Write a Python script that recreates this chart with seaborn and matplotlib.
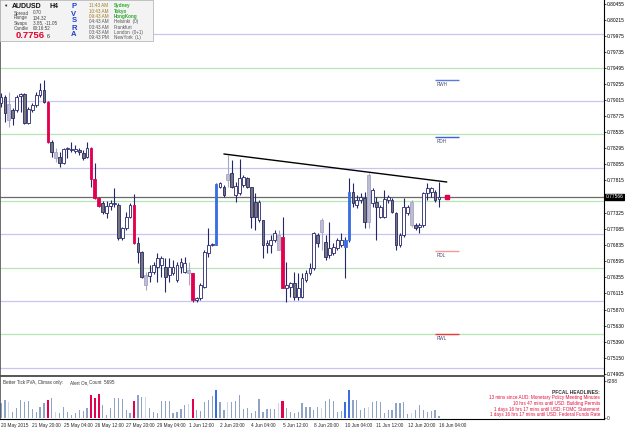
import numpy as np
import pandas as pd
import matplotlib
matplotlib.use("Agg")
import matplotlib.pyplot as plt
import matplotlib.transforms as mtransforms
from matplotlib.patches import Rectangle
import seaborn as sns

# AUDUSD H4 candles
opens = [0.7897, 0.7906, 0.78955, 0.78865, 0.78865, 0.79075, 0.79105, 0.7867, 0.78865, 0.7894,
         0.7909, 0.79165, 0.78985, 0.78385, 0.78235, 0.7816, 0.7807, 0.7828, 0.78265, 0.7825,
         0.78265, 0.7822, 0.7816, 0.78295, 0.7783, 0.77545, 0.7747, 0.7732, 0.77425, 0.77455,
         0.7744, 0.76945, 0.77095, 0.7726, 0.7744, 0.7687, 0.76735, 0.7639, 0.76375, 0.76435,
         0.7651, 0.7654, 0.7651, 0.7639, 0.7642, 0.76315, 0.7651, 0.76435, 0.76465, 0.7642,
         0.76015, 0.76045, 0.7621, 0.7672, 0.7684, 0.7684, 0.7771, 0.7771, 0.77815, 0.7792,
         0.7759, 0.7762, 0.7774, 0.77845, 0.7771, 0.77485, 0.77215, 0.77215, 0.7684, 0.7684,
         0.76915, 0.7699, 0.7696, 0.76195, 0.7621, 0.7627, 0.7606, 0.7606, 0.76315, 0.7642,
         0.76495, 0.7699, 0.77035, 0.76885, 0.7669, 0.7672, 0.76795, 0.7684, 0.7681, 0.76915,
         0.77635, 0.7744, 0.77515, 0.77545, 0.77185, 0.7747, 0.77485, 0.7726, 0.7726, 0.77515,
         0.77515, 0.7732, 0.7684, 0.7699, 0.7732, 0.77485, 0.7714, 0.7711, 0.7714, 0.7762,
         0.77635, 0.77635, 0.7753]
closes = [0.7906, 0.7882, 0.78715, 0.78745, 0.7906, 0.79105, 0.7867, 0.7888, 0.7894, 0.7909,
          0.79165, 0.78985, 0.78385, 0.78235, 0.78145, 0.7807, 0.7828, 0.78295, 0.7828, 0.7828,
          0.78235, 0.78145, 0.78295, 0.7783, 0.77545, 0.77425, 0.77335, 0.77425, 0.7747, 0.7747,
          0.76945, 0.77095, 0.7726, 0.7744, 0.7687, 0.76735, 0.7636, 0.7624, 0.76435, 0.7654,
          0.76645, 0.76645, 0.7636, 0.7651, 0.7651, 0.7654, 0.76585, 0.7657, 0.7642, 0.76015,
          0.76045, 0.7624, 0.76735, 0.7684, 0.76855, 0.77755, 0.7777, 0.7759, 0.77905, 0.7771,
          0.77725, 0.77845, 0.7786, 0.7771, 0.7726, 0.7726, 0.77485, 0.7684, 0.7687, 0.76915,
          0.7702, 0.76765, 0.76195, 0.7624, 0.7627, 0.7606, 0.76195, 0.76345, 0.7642, 0.76495,
          0.7702, 0.7687, 0.77215, 0.7666, 0.76795, 0.7681, 0.76915, 0.76915, 0.76915, 0.77635,
          0.7747, 0.77515, 0.7756, 0.77185, 0.7789, 0.77665, 0.7741, 0.7741, 0.7753, 0.7756,
          0.77335, 0.7684, 0.7699, 0.7741, 0.7741, 0.7714, 0.77095, 0.7714, 0.7762, 0.77695,
          0.77695, 0.77515, 0.77566]
highs = [0.7912, 0.7909, 0.79135, 0.78895, 0.7909, 0.7912, 0.7912, 0.7891, 0.7897, 0.79135,
         0.7927, 0.79315, 0.79, 0.78415, 0.78295, 0.78235, 0.78295, 0.7831, 0.78385, 0.7834,
         0.78295, 0.78265, 0.78385, 0.7831, 0.7807, 0.7756, 0.775, 0.775, 0.77515, 0.77695,
         0.7747, 0.7711, 0.77335, 0.7747, 0.77605, 0.7696, 0.7675, 0.76435, 0.7654, 0.76585,
         0.7672, 0.76675, 0.76645, 0.76645, 0.76615, 0.76585, 0.76645, 0.7666, 0.76585, 0.7642,
         0.7606, 0.7627, 0.76765, 0.77095, 0.7687, 0.7777, 0.77785, 0.7774, 0.7819, 0.78115,
         0.77785, 0.7813, 0.7789, 0.7786, 0.7771, 0.7762, 0.77515, 0.77215, 0.76915, 0.7699,
         0.77065, 0.77065, 0.7726, 0.76585, 0.76285, 0.76435, 0.7642, 0.7642, 0.76465, 0.7657,
         0.77035, 0.7702, 0.77245, 0.7699, 0.77185, 0.7687, 0.76945, 0.7702, 0.7696, 0.77845,
         0.7777, 0.7759, 0.7762, 0.77635, 0.7792, 0.77695, 0.7756, 0.7744, 0.77665, 0.7759,
         0.77545, 0.77335, 0.7702, 0.77545, 0.7744, 0.77515, 0.7717, 0.7717, 0.77635, 0.7777,
         0.7771, 0.77665, 0.77785]
lows = [0.7891, 0.78685, 0.7861, 0.7864, 0.78835, 0.78835, 0.78655, 0.78655, 0.78835, 0.7891,
        0.7906, 0.7897, 0.7837, 0.7816, 0.78085, 0.7801, 0.78055, 0.78145, 0.78235, 0.7822,
        0.7819, 0.78115, 0.78145, 0.7771, 0.7753, 0.7741, 0.77305, 0.77245, 0.77365, 0.7741,
        0.76915, 0.76915, 0.77065, 0.77245, 0.76855, 0.7657, 0.76345, 0.76165, 0.76285, 0.76405,
        0.76285, 0.7636, 0.76135, 0.76285, 0.7639, 0.76285, 0.7642, 0.7642, 0.7624, 0.75985,
        0.75985, 0.76015, 0.76195, 0.7666, 0.76825, 0.7684, 0.77695, 0.7756, 0.7771, 0.77695,
        0.77485, 0.7759, 0.7771, 0.77695, 0.77095, 0.77065, 0.77185, 0.76645, 0.7672, 0.7672,
        0.76885, 0.76765, 0.76195, 0.75985, 0.7606, 0.76015, 0.76015, 0.76045, 0.76285, 0.7639,
        0.76465, 0.7681, 0.76765, 0.76615, 0.76645, 0.7669, 0.76765, 0.7681, 0.76345, 0.76885,
        0.7741, 0.77395, 0.7747, 0.77095, 0.77095, 0.7741, 0.76915, 0.77245, 0.77245, 0.7747,
        0.7732, 0.76765, 0.7681, 0.7696, 0.7729, 0.7711, 0.77065, 0.7702, 0.7711, 0.77515,
        0.7756, 0.77485, 0.7741]
# PVSRA candle class: w=up, d=down, l=low volume, r=bear climax, b=bull climax
kinds = list("wdldwwdwww" "wdrdldwwww" "ddwrrrdwww" "dwwwrddlww" "wwdwwwwwlr"
             "wwwwwbwdld" "wwwdddwdww" "wlrwwdwwww" "wdldwwwwbb" "dwwdlwdwww"
             "ddwwwldwww" "wdw")
volumes = [2500, 3060, 2770, 1070, 1650, 3060, 2770, 2940, 1480, 1070,
           1920, 2600, 3060, 3350, 1070, 900, 1920, 970, 510, 800,
           1360, 1240, 1650, 3910, 3450, 4030, 2210, 510, 1650, 3350,
           3350, 3180, 1360, 900, 2890, 3910, 3620, 3620, 1650, 970,
           800, 2940, 2940, 2940, 800, 1070, 1480, 2210, 2330, 3180,
           1360, 1240, 2770, 3060, 3790, 4760, 2770, 1360, 2770, 2770,
           2890, 3910, 1480, 1650, 800, 1240, 3180, 1070, 1480, 1480,
           1480, 2500, 2940, 1650, 970, 800, 1070, 2500, 1920, 1920,
           1360, 1920, 1650, 2940, 3180, 2940, 1070, 1240, 2670, 4760,
           3060, 3060, 1360, 1650, 1820, 2770, 2940, 2770, 800, 1360,
           1360, 2500, 2600, 2770, 630, 800, 1360, 2210, 1360, 1070,
           1240, 1360, 340]

date_pos = [0, 8, 16, 24, 32, 40, 48, 56, 64, 72, 80, 88, 96, 104, 112]
date_labels = ["20 May 2015", "21 May 20:00", "25 May 04:00", "26 May 12:00", "27 May 20:00",
               "29 May 04:00", "1 Jun 12:00", "2 Jun 20:00", "4 Jun 04:00", "5 Jun 12:00",
               "8 Jun 20:00", "10 Jun 04:00", "11 Jun 12:00", "12 Jun 20:00", "16 Jun 04:00"]
price_ticks = [0.80455, 0.80215, 0.79975, 0.79735, 0.79495, 0.79255, 0.79015, 0.78775,
               0.78535, 0.78295, 0.78055, 0.77815, 0.77325, 0.77085, 0.76835, 0.76595,
               0.76355, 0.76115, 0.75870, 0.75630, 0.75390, 0.75150, 0.74905]
blue_levels = [0.80, 0.79, 0.78, 0.77, 0.76, 0.75]
green_levels = [0.795, 0.785, 0.775, 0.765, 0.755]
bid = 0.77566
pivot_names = ["RWH", "RDH", "RDL", "RWL"]
pivot_prices = [0.79315, 0.7846, 0.7675, 0.75505]
pivot_colors = ["#5a78e6", "#3c5fe0", "#f49a9a", "#e83c3c"]
trend_x = [57, 114]
trend_y = [0.78205, 0.77785]
vol_max = 6288

df = pd.DataFrame({"open": opens, "high": highs, "low": lows, "close": closes,
                   "kind": kinds, "volume": volumes})
df["i"] = np.arange(len(df))

sns.set_style("white")
plt.rcParams['font.family'] = ['Liberation Sans', 'DejaVu Sans']

W, H = 625, 429
fig = plt.figure(figsize=(W / 100, H / 100), dpi=100)
ax = fig.add_axes([0, 1 - 376 / H, 604 / W, 376 / H])
axv = fig.add_axes([0, 1 - 419 / H, 604 / W, 42 / H])

navy = "#26266b"
fill = {"w": "white", "d": "#767676", "l": "#bdbdd2", "r": "#e3004f", "b": "#3b6de3"}
edge = {"w": navy, "d": navy, "l": "#a6a6c6", "r": "#e3004f", "b": "#3b6de3"}
wick = {"w": navy, "d": navy, "l": "#a6a6c6", "r": navy, "b": navy}
vcol = {"r": "#e3004f", "b": "#3b6de3", "l": "#cdd5e6"}

# round number levels
for p in blue_levels:
    ax.axhline(p, color="#c6c6f2", lw=0.9, zorder=1)
for p in green_levels:
    ax.axhline(p, color="#b6e6b6", lw=0.9, zorder=1)
ax.axhline(bid, color="#6a6a6a", lw=0.9, zorder=1)

# candles
ax.vlines(df["i"], df["low"], df["high"], colors=[wick[k] for k in df["kind"]], lw=0.8, zorder=2)
bottoms = df[["open", "close"]].min(axis=1)
heights = np.maximum((df["close"] - df["open"]).abs(), 0.00002)
ax.bar(df["i"], heights, bottom=bottoms, width=0.7,
       color=[fill[k] for k in df["kind"]], edgecolor=[edge[k] for k in df["kind"]],
       linewidth=0.6, zorder=3)

# trend line and bid marker
sns.lineplot(x=trend_x, y=trend_y, ax=ax, color="black", lw=1.0, zorder=4)
ax.plot([114], [bid], marker="s", ms=2.2, color="#e3004f", zorder=5)

# pivot levels
for name, p, c in zip(pivot_names, pivot_prices, pivot_colors):
    ax.hlines(p, 111, 117.1, color=c, lw=1.0, zorder=3)
    ax.text(111.4, p - 0.00025, name, fontsize=3.3, color="#4a4a78", va="top", ha="left")

ax.set_xlim(-0.26, 154.2)
ax.set_ylim(0.74875, 0.80515)
ax.set_xticks([])
ax.yaxis.tick_right()
ax.set_yticks(price_ticks)
ax.set_yticklabels([f"{p:.5f}" for p in price_ticks])
ax.tick_params(axis="y", length=1.5, width=0.5, labelsize=3.5, pad=0.6, colors="black")
ax.spines["top"].set_visible(False)
ax.spines["left"].set_color("#555555")
ax.spines["left"].set_linewidth(1.2)
ax.spines["right"].set_color("black")
ax.spines["right"].set_linewidth(0.8)
ax.spines["bottom"].set_color("#555555")
ax.spines["bottom"].set_linewidth(1.4)
blend = mtransforms.blended_transform_factory(ax.transAxes, ax.transData)
ax.text(1.003, bid, f"{bid:.5f}", transform=blend, fontsize=3.5, color="white",
        va="center", ha="left", bbox=dict(boxstyle="square,pad=0.12", fc="black", ec="black"))

# volume panel
axv.bar(df["i"], df["volume"],
        width=[0.55 if k in "rb" else 0.32 for k in df["kind"]],
        color=[vcol.get(k, "#8fa3c6") for k in df["kind"]], linewidth=0, zorder=2)
axv.set_xlim(-0.26, 154.2)
axv.set_ylim(-170, 6970)
axv.yaxis.tick_right()
axv.set_yticks([0, vol_max])
axv.set_yticklabels(["0", str(vol_max)])
axv.tick_params(axis="y", length=1.5, width=0.5, labelsize=3.5, pad=0.6)
axv.set_xticks(date_pos)
axv.set_xticklabels(date_labels, ha="left")
axv.tick_params(axis="x", length=2.5, width=0.5, labelsize=3.4, pad=0.3)
axv.spines["top"].set_visible(False)
axv.spines["left"].set_color("#555555")
axv.spines["left"].set_linewidth(1.2)
for s in ["right", "bottom"]:
    axv.spines[s].set_color("black")
    axv.spines[s].set_linewidth(0.8)


def ftext(x, y, s, **kw):
    kw.setdefault("va", "center")
    kw.setdefault("zorder", 6)
    fig.text(x / W, 1 - y / H, s, **kw)


ftext(3, 382.5, "Better Tick PVA, Climax only:", fontsize=3.3, color="#333333")
ftext(70, 382.5, "Alert On,", fontsize=3.3, color="#333333")
ftext(89, 382.5, "Count  5695", fontsize=3.3, color="#333333")

ftext(600, 392.5, "PFCAL HEADLINES:", fontsize=3.5, color="#333333", ha="right", fontweight="bold")
headlines = ["13 mins since AUD: Monetary Policy Meeting Minutes",
             "10 hrs 47 mins until USD: Building Permits",
             "1 days 16 hrs 17 mins until USD: FOMC Statement",
             "1 days 16 hrs 17 mins until USD: Federal Funds Rate"]
for k, s in enumerate(headlines):
    ftext(600, 398 + 5.5 * k, s, fontsize=3.3, color="#e0103c", ha="right")

# info panel
fig.patches.append(Rectangle((0, 1 - 41 / H), 153 / W, 41 / H, transform=fig.transFigure,
                             fc="#f3f3f3", ec="#b8b8b8", lw=0.6, zorder=5))
ftext(3, 6, "\u25BC", fontsize=3.2, color="#222222")
ftext(12, 6, "AUDUSD", fontsize=5, fontweight="bold", color="#111111")
ftext(49, 6, "H4", fontsize=5, fontweight="bold", color="#111111")
info_keys = ["Spread", "Range", "Swaps", "Candle"]
info_vals = ["0.70", "104.32", "3.85, -11.05", "00:16:52"]
for k, (a, b) in enumerate(zip(info_keys, info_vals)):
    ftext(14, 13 + 5 * k, a, fontsize=3.3, color="#444444")
    ftext(33, 13 + 5 * k, b, fontsize=3.3, color="#444444")
ftext(16, 35, "0.7756", fontsize=6.8, fontweight="bold", color="#e3002a")
ftext(47, 36.5, "6", fontsize=4, color="#333333")
for k, ch in enumerate("PVSRA"):
    ftext(74, 7 + 7 * k, ch, fontsize=5.5, fontweight="bold", color="#2040c8", ha="center")
times = ["11:43 AM", "10:43 AM", "09:43 AM", "04:43 AM", "03:43 AM", "03:43 AM", "09:43 PM"]
cities = ["Sydney", "Tokyo", "HongKong", "Helsinki  (0)", "Frankfurt", "London  (0+1)", "NewYork  (L)"]
for k, (t, c) in enumerate(zip(times, cities)):
    y = 5.7 + 5.35 * k
    ftext(89, y, t, fontsize=3.3, color="#a07c1c" if k < 3 else "#555555")
    ftext(114, y, c, fontsize=3.3, color="#2ea82e" if k < 3 else "#555555",
          fontweight="bold" if k < 3 else "normal")

fig.savefig("out.png", dpi=100)
